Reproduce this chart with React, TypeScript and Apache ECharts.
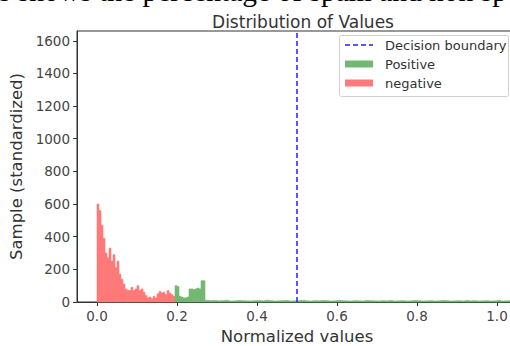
import React, { useEffect, useRef } from "react";
import * as echarts from "echarts";

const binWidth = 0.005;
const negativeStart = 0.0;
const negativeCounts = [
  600, 560, 470, 390, 300, 270, 330, 250, 290, 210, 250, 170, 140, 110, 80, 70, 70, 90, 70, 80,
  100, 70, 80, 60, 40, 25, 30, 20, 35, 25, 50, 65, 55, 60, 45, 70, 55, 45, 35,
];
const positiveStart = 0.195;
const positiveCounts = [100, 95, 35, 30, 25, 25, 30, 80, 80, 75, 80, 85, 80, 130, 130];
const tailStart = 0.27;
const tailBinWidth = 0.01;
const tailCounts = [
  10, 8, 9, 7, 8, 10, 6, 7, 9, 8, 7, 6, 8, 9, 7, 10, 8, 6, 7, 8, 9, 6, 7, 8, 10, 7, 6, 8, 7, 9,
  8, 6, 7, 9, 8, 7, 6, 8, 7, 6, 9, 8, 7, 6, 8, 7, 9, 6, 7, 8, 6, 7, 9, 8, 6, 7, 8, 6, 7, 9,
  8, 6, 7, 8, 6, 9, 7, 8, 6, 7, 8, 6, 7, 9, 6, 7, 8, 6,
];
const boundaryX = 0.5;
const yTicks = [0, 200, 400, 600, 800, 1000, 1200, 1400, 1600];
const xTicks = [0.0, 0.2, 0.4, 0.6, 0.8, 1.0];
const titleText = "Distribution of Values";
const xLabel = "Normalized values";
const yLabel = "Sample (standardized)";
const docText = "s shows the percentage of spam and non sp";
const legendLabels = ["Decision boundary", "Positive", "negative"];

const RED = "#ff7a7a";
const GREEN = "#72b872";
const BLUE = "#2222ee";
const FONT = "DejaVu Sans";

function bins(start: number, width: number, counts: number[]) {
  return counts.map((c, i) => [start + i * width, start + (i + 1) * width, c]);
}

function barSeries(name: string, data: number[][], color: string) {
  return {
    name,
    type: "custom",
    data,
    encode: { x: [0, 1], y: 2 },
    renderItem: (params: any, api: any) => {
      const p0 = api.coord([api.value(0), api.value(2)]);
      const p1 = api.coord([api.value(1), 0]);
      return {
        type: "rect",
        shape: { x: p0[0], y: p0[1], width: p1[0] - p0[0], height: p1[1] - p0[1] },
        style: { fill: color, stroke: color, lineWidth: 0.6 },
      };
    },
    z: 2,
  };
}

export default function App() {
  const ref = useRef<HTMLDivElement>(null);
  useEffect(() => {
    if (!ref.current) return;
    const chart = echarts.init(ref.current, null, { renderer: "svg" });
    const lx = 345;
    const ly = [45, 64, 83];
    chart.setOption({
      animation: false,
      backgroundColor: "#ffffff",
      textStyle: { fontFamily: FONT },
      title: {
        text: titleText,
        left: 298,
        top: 8,
        textAlign: "center",
        textStyle: { fontFamily: FONT, fontSize: 17, fontWeight: "normal", color: "#333" },
      },
      grid: {
        left: 77,
        top: 31,
        width: 440,
        bottom: 44,
        show: true,
        borderColor: "#333",
        borderWidth: 1,
        containLabel: false,
        outerBoundsMode: "none",
      },
      xAxis: {
        type: "value",
        min: -0.05,
        max: 1.05,
        name: xLabel,
        nameLocation: "middle",
        nameGap: 23,
        nameTextStyle: { fontFamily: FONT, fontSize: 16.5, color: "#333" },
        splitLine: { show: false },
        axisLine: { show: true, onZero: false, lineStyle: { color: "#333" } },
        axisTick: { show: true, length: 4, lineStyle: { color: "#333" }, customValues: xTicks },
        axisLabel: {
          customValues: xTicks,
          formatter: (v: number) => v.toFixed(1),
          fontFamily: FONT,
          fontSize: 13.5,
          color: "#444",
          margin: 7,
        },
      },
      yAxis: {
        type: "value",
        min: 0,
        max: 1660,
        name: yLabel,
        nameLocation: "middle",
        nameRotate: 90,
        nameGap: 50,
        nameTextStyle: { fontFamily: FONT, fontSize: 16.5, color: "#333" },
        splitLine: { show: false },
        axisLine: { show: true, onZero: false, lineStyle: { color: "#333" } },
        axisTick: { show: true, length: 4, lineStyle: { color: "#333" }, customValues: yTicks },
        axisLabel: {
          customValues: yTicks,
          formatter: (v: number) => String(v),
          fontFamily: FONT,
          fontSize: 13.5,
          color: "#444",
          margin: 7,
        },
      },
      series: [
        barSeries("negative", bins(negativeStart, binWidth, negativeCounts), RED),
        barSeries("Positive", bins(positiveStart, binWidth, positiveCounts), GREEN),
        barSeries("Positive tail", bins(tailStart, tailBinWidth, tailCounts), GREEN),
        {
          name: "Decision boundary",
          type: "line",
          data: [
            [boundaryX, 0],
            [boundaryX, 1660],
          ],
          symbol: "none",
          lineStyle: { color: BLUE, width: 1.5, type: [5, 3] },
          z: 5,
        },
      ],
      graphic: [
        {
          type: "text",
          left: -1,
          top: -24,
          style: { text: docText, font: "29.5px 'Liberation Serif'", fill: "#000" },
          z: 10,
        },
        {
          type: "rect",
          shape: { x: 339.5, y: 35.5, width: 169, height: 61, r: 2 },
          style: { fill: "rgba(255,255,255,0.85)", stroke: "#d0d0d0", lineWidth: 1 },
          z: 10,
        },
        {
          type: "line",
          shape: { x1: lx, y1: ly[0], x2: lx + 28, y2: ly[0] },
          style: { stroke: BLUE, lineWidth: 1.5, lineDash: [5, 3] },
          z: 11,
        },
        {
          type: "rect",
          shape: { x: lx, y: ly[1] - 3.5, width: 28, height: 7 },
          style: { fill: GREEN },
          z: 11,
        },
        {
          type: "rect",
          shape: { x: lx, y: ly[2] - 3.5, width: 28, height: 7 },
          style: { fill: RED },
          z: 11,
        },
        ...legendLabels.map((t, i) => ({
          type: "text",
          x: 385,
          y: ly[i],
          style: {
            text: t,
            fontFamily: FONT,
            fontSize: 13,
            fill: "#333",
            verticalAlign: "middle",
          },
          z: 11,
        })),
      ],
    });
    return () => chart.dispose();
  }, []);
  return (
    <div
      ref={ref}
      style={{ position: "fixed", left: 0, top: 0, width: 510, height: 346 }}
    />
  );
}
